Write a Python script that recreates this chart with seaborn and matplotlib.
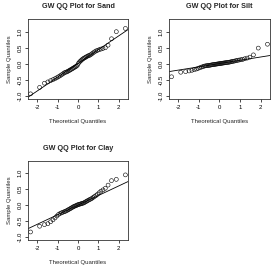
import numpy as np
import pandas as pd
import seaborn as sns
import matplotlib
matplotlib.use("Agg")
import matplotlib.pyplot as plt
from statistics import NormalDist

# sorted sample residuals (50 per soil type)
sand = [-0.93, -0.73, -0.60, -0.56, -0.52, -0.49, -0.46, -0.43, -0.40, -0.37,
        -0.34, -0.31, -0.28, -0.26, -0.25, -0.23, -0.21, -0.19, -0.17, -0.15,
        -0.13, -0.11, -0.09, -0.07, -0.04,
        0.02, 0.06, 0.09, 0.12, 0.15, 0.17, 0.19, 0.21, 0.23, 0.25,
        0.26, 0.28, 0.31, 0.34, 0.37, 0.40, 0.42, 0.44, 0.46, 0.48,
        0.50, 0.58, 0.78, 1.00, 1.10]
silt = [-0.40, -0.26, -0.24, -0.22, -0.20, -0.18, -0.16, -0.14, -0.12, -0.10,
        -0.085, -0.07, -0.06, -0.055, -0.05, -0.045, -0.04, -0.03, -0.025, -0.02,
        -0.015, -0.01, -0.005, 0.00, 0.005,
        0.01, 0.015, 0.02, 0.025, 0.03, 0.035, 0.04, 0.045, 0.05, 0.055,
        0.065, 0.075, 0.08, 0.09, 0.10, 0.11, 0.12, 0.13, 0.14, 0.16,
        0.18, 0.21, 0.28, 0.49, 0.61]
clay = [-0.84, -0.66, -0.61, -0.58, -0.52, -0.46, -0.40, -0.34, -0.29, -0.26,
        -0.24, -0.22, -0.205, -0.19, -0.17, -0.15, -0.13, -0.11, -0.09, -0.07,
        -0.05, -0.035, -0.02, -0.01, 0.01,
        0.02, 0.03, 0.04, 0.05, 0.06, 0.07, 0.09, 0.11, 0.13, 0.15,
        0.17, 0.19, 0.21, 0.24, 0.27, 0.30, 0.34, 0.39, 0.44, 0.48,
        0.53, 0.63, 0.77, 0.81, 0.95]

panels = [("Sand", sand), ("Silt", silt), ("Clay", clay)]
y_ticks = [-1.0, -0.5, 0.0, 0.5, 1.0]
x_ticks = [-2, -1, 0, 1, 2]

sns.set_style("ticks")
plt.rcParams['font.family'] = ['Liberation Sans', 'DejaVu Sans']
plt.rcParams['axes.linewidth'] = 0.6

fig = plt.figure(figsize=(2.73, 2.69), dpi=100)
# axes boxes in figure fraction (left, bottom, width, height)
boxes = [(0.1026, 0.632, 0.366, 0.297),
         (0.619, 0.632, 0.370, 0.297),
         (0.1026, 0.108, 0.366, 0.294)]

nd = NormalDist()
for (name, vals), box in zip(panels, boxes):
    ax = fig.add_axes(box)
    y = np.sort(np.array(vals))
    n = len(y)
    p = (np.arange(1, n + 1) - 0.5) / n
    x = np.array([nd.inv_cdf(v) for v in p])
    df = pd.DataFrame({"theo": x, "sample": y})
    sns.scatterplot(data=df, x="theo", y="sample", ax=ax, marker="o",
                    fc="none", ec="black", linewidth=0.4, s=8)
    # qqline through the quartiles
    q1, q3 = np.quantile(y, [0.25, 0.75])
    z1, z3 = nd.inv_cdf(0.25), nd.inv_cdf(0.75)
    slope = (q3 - q1) / (z3 - z1)
    inter = q1 - slope * z1
    ax.axline((0, inter), slope=slope, color="black", linewidth=0.6)

    ax.set_xlim(-2.45, 2.45)
    ax.set_ylim(-1.09, 1.39)
    ax.set_xticks(x_ticks)
    ax.set_yticks(y_ticks)
    ax.set_xticklabels([str(t) for t in x_ticks])
    ax.set_yticklabels(["%.1f" % t for t in y_ticks], rotation=90, va="center")
    ax.tick_params(labelsize=4.3, length=2.5, width=0.5, pad=1.5, colors="black")
    ax.set_title("GW QQ Plot for " + name, fontsize=5.2, fontweight="bold", pad=8)
    ax.set_xlabel("Theoretical Quantiles", fontsize=4.3, labelpad=7)
    ax.set_ylabel("Sample Quantiles", fontsize=4.3, labelpad=4)
    for sp in ax.spines.values():
        sp.set_visible(True)
        sp.set_color("#333333")

fig.savefig("out.png", dpi=100)
